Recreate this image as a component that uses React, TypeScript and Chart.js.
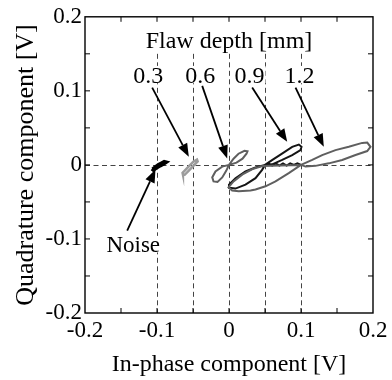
import React, { useEffect, useRef } from 'react';
import { Chart, registerables } from 'chart.js';

Chart.register(...registerables);

const FONT = '"Liberation Serif", "Times New Roman", Times, serif';

// axis ticks
const xTickValues = [-0.2, -0.1, 0, 0.1, 0.2];
const xTickLabels = ['-0.2', '-0.1', '0', '0.1', '0.2'];
const yTickValues = [-0.2, -0.1, 0, 0.1, 0.2];
const yTickLabels = ['-0.2', '-0.1', '0', '0.1', '0.2'];
const tickMarks = [-0.15, -0.1, -0.05, 0, 0.05, 0.1, 0.15];

// dashed guide lines
const guideX = [-0.1, -0.05, 0, 0.05, 0.1];
const guideTopY = 0.15;
const guideY = 0;

// signal traces
const noiseX = [-0.106, -0.102, -0.098, -0.094, -0.09, -0.088, -0.091, -0.096, -0.101, -0.105, -0.107];
const noiseY = [-0.006, -0.003, 0.0, 0.002, 0.004, 0.0035, 0.0015, -0.001, -0.004, -0.0065, -0.005];

const d03X = [-0.064, -0.0615, -0.0565, -0.0515, -0.0465, -0.0435, -0.0445, -0.0495, -0.0545, -0.0595, -0.0645, -0.064];
const d03Y = [-0.013, -0.0133, -0.0083, -0.0033, 0.0017, 0.0047, 0.0073, 0.0043, -0.0007, -0.0057, -0.0107, -0.013];

const d06X = [0, 0.0104, 0.0188, 0.0243, 0.0257, 0.0215, 0.0132, 0.0063, 0, -0.0094, -0.0188, -0.0233, -0.0215, -0.016, -0.0094, -0.0039, 0];
const d06Y = [0, 0.0031, 0.0084, 0.0151, 0.0184, 0.0191, 0.0151, 0.0084, 0, -0.0023, -0.0089, -0.0169, -0.0223, -0.0229, -0.0169, -0.008, 0];

const d09X = [0.05, 0.0603, 0.0742, 0.0878, 0.097, 0.1007, 0.0993, 0.0878, 0.0739, 0.06, 0.05,
  0.0368, 0.0229, 0.009, 0.0, 0.0, 0.009, 0.0229, 0.0368, 0.046, 0.05,
  0.055, 0.06, 0.065, 0.07, 0.075, 0.08, 0.085, 0.09, 0.095, 0.1];
const d09Y = [0, 0.0067, 0.0155, 0.0244, 0.0275, 0.0244, 0.02, 0.0133, 0.0067, 0.0008, 0,
  -0.0036, -0.0089, -0.0179, -0.0267, -0.031, -0.032, -0.0267, -0.0179, -0.0067, 0,
  0.002, -0.001, 0.002, -0.001, 0.002, -0.001, 0.002, 0.0, 0.002, 0];

const d12X = [0.1, 0.1156, 0.1294, 0.1479, 0.1664, 0.185, 0.192, 0.1965, 0.192, 0.1757, 0.1572, 0.1386, 0.1201, 0.1063, 0.1,
  0.083, 0.0646, 0.0507, 0.0368, 0.0299, 0.0136, 0.0044, -0.0007, 0.0063, 0.0188, 0.0326, 0.0465, 0.0715, 0.1];
const d12Y = [0, 0.0067, 0.0133, 0.02, 0.0244, 0.0297, 0.0301, 0.0244, 0.0187, 0.0133, 0.0067, 0.0021, -0.0013, -0.0023, 0,
  -0.0112, -0.0223, -0.0289, -0.0333, -0.0347, -0.0356, -0.0347, -0.0303, -0.0223, -0.0129, -0.0056, -0.0016, -0.0009, 0];

// annotations (data coordinates)
const headerText = 'Flaw depth [mm]';
const headerPos = [0.0, 0.158];
const depthLabels = ['0.3', '0.6', '0.9', '1.2'];
const depthLabelX = [-0.112, -0.04, 0.0285, 0.098];
const depthLabelY = 0.111;
const arrowFromX = [-0.1067, -0.0372, 0.0322, 0.0924, -0.1414];
const arrowFromY = [0.1044, 0.1067, 0.1044, 0.1044, -0.0889];
const arrowToX = [-0.0558, -0.0025, 0.0808, 0.1317, -0.1021];
const arrowToY = [0.0111, 0.0088, 0.0311, 0.0244, -0.0063];
const noiseText = 'Noise';
const noisePos = [-0.133, -0.1176];

const xTitle = 'In-phase component [V]';
const yTitle = 'Quadrature component [V]';

const toPts = (xs: number[], ys: number[]) => xs.map((x, i) => ({ x, y: ys[i] }));

const overlay = {
  id: 'overlay',
  beforeDatasetsDraw(chart: any) {
    const { ctx, chartArea: a, scales } = chart;
    const xs = scales.x, ys = scales.y;
    ctx.save();
    ctx.strokeStyle = '#444';
    ctx.lineWidth = 1;
    ctx.setLineDash([5, 3.5]);
    guideX.forEach((v) => {
      const px = Math.round(xs.getPixelForValue(v)) + 0.5;
      ctx.beginPath();
      ctx.moveTo(px, ys.getPixelForValue(guideTopY));
      ctx.lineTo(px, a.bottom);
      ctx.stroke();
    });
    const py = Math.round(ys.getPixelForValue(guideY)) + 0.5;
    ctx.beginPath();
    ctx.moveTo(a.left, py);
    ctx.lineTo(a.right, py);
    ctx.stroke();
    ctx.restore();
  },
  afterDraw(chart: any) {
    const { ctx, chartArea: a, scales } = chart;
    const xs = scales.x, ys = scales.y;
    ctx.save();
    // frame
    ctx.strokeStyle = '#000';
    ctx.lineWidth = 1.4;
    ctx.strokeRect(a.left, a.top, a.right - a.left, a.bottom - a.top);
    // inward ticks
    const tl = 5;
    ctx.lineWidth = 1;
    tickMarks.forEach((v) => {
      const px = xs.getPixelForValue(v);
      ctx.beginPath();
      ctx.moveTo(px, a.bottom); ctx.lineTo(px, a.bottom - tl);
      ctx.moveTo(px, a.top); ctx.lineTo(px, a.top + tl);
      ctx.stroke();
      const py = ys.getPixelForValue(v);
      ctx.beginPath();
      ctx.moveTo(a.left, py); ctx.lineTo(a.left + tl, py);
      ctx.moveTo(a.right, py); ctx.lineTo(a.right - tl, py);
      ctx.stroke();
    });

    // texts with white backing
    const label = (text: string, x: number, y: number, size: number) => {
      ctx.font = `${size}px ${FONT}`;
      const w = ctx.measureText(text).width;
      ctx.fillStyle = '#fff';
      ctx.fillRect(x - w / 2 - 1, y - size * 0.7, w + 2, size * 0.72);
      ctx.fillStyle = '#000';
      ctx.textAlign = 'center';
      ctx.textBaseline = 'alphabetic';
      ctx.fillText(text, x, y);
    };
    label(headerText, xs.getPixelForValue(headerPos[0]), ys.getPixelForValue(headerPos[1]), 24);
    depthLabels.forEach((t, i) => label(t, xs.getPixelForValue(depthLabelX[i]), ys.getPixelForValue(depthLabelY), 24));
    label(noiseText, xs.getPixelForValue(noisePos[0]), ys.getPixelForValue(noisePos[1]), 23);

    // arrows
    ctx.strokeStyle = '#000';
    ctx.fillStyle = '#000';
    ctx.lineWidth = 1.8;
    arrowFromX.forEach((fx, i) => {
      const x1 = xs.getPixelForValue(fx), y1 = ys.getPixelForValue(arrowFromY[i]);
      const x2 = xs.getPixelForValue(arrowToX[i]), y2 = ys.getPixelForValue(arrowToY[i]);
      const ang = Math.atan2(y2 - y1, x2 - x1);
      const hl = 13, hw = 5;
      const bx = x2 - hl * Math.cos(ang), by = y2 - hl * Math.sin(ang);
      ctx.beginPath();
      ctx.moveTo(x1, y1);
      ctx.lineTo(bx, by);
      ctx.stroke();
      ctx.beginPath();
      ctx.moveTo(x2, y2);
      ctx.lineTo(bx + hw * Math.sin(ang), by - hw * Math.cos(ang));
      ctx.lineTo(bx - hw * Math.sin(ang), by + hw * Math.cos(ang));
      ctx.closePath();
      ctx.fill();
    });

    // axis titles
    ctx.fillStyle = '#000';
    ctx.textAlign = 'center';
    ctx.textBaseline = 'alphabetic';
    ctx.font = `24px ${FONT}`;
    ctx.fillText(xTitle, (a.left + a.right) / 2, 371);
    ctx.save();
    ctx.translate(33, 165);
    ctx.rotate(-Math.PI / 2);
    ctx.font = `26px ${FONT}`;
    ctx.fillText(yTitle, 0, 0);
    ctx.restore();
    ctx.restore();
  },
};

export default function App() {
  const ref = useRef<HTMLCanvasElement | null>(null);
  useEffect(() => {
    if (!ref.current) return;
    const tickLabel = (vals: number[], labels: string[]) => (v: any) => {
      const i = vals.findIndex((t) => Math.abs(t - Number(v)) < 1e-9);
      return i >= 0 ? labels[i] : '';
    };
    const line = (data: any[], color: string, width: number) => ({
      data,
      borderColor: color,
      backgroundColor: color,
      borderWidth: width,
      showLine: true,
      pointRadius: 0,
      tension: 0,
      fill: false,
    });
    const chart = new Chart(ref.current, {
      type: 'scatter',
      data: {
        datasets: [
          line(toPts(d12X, d12Y), '#5f5f5f', 2),
          line(toPts(d09X, d09Y), '#151515', 2),
          line(toPts(d06X, d06Y), '#5f5f5f', 2),
          line(toPts(d03X, d03Y), '#9c9c9c', 2.5),
          line(toPts(noiseX, noiseY), '#000', 4),
        ],
      },
      options: {
        animation: false,
        responsive: true,
        maintainAspectRatio: false,
        layout: { padding: { left: 0, top: 13, right: 19, bottom: 0 } },
        plugins: { legend: { display: false }, tooltip: { enabled: false } },
        scales: {
          x: {
            type: 'linear',
            min: -0.2,
            max: 0.2,
            afterFit: (s: any) => { s.height = 67; },
            afterBuildTicks: (s: any) => { s.ticks = xTickValues.map((v) => ({ value: v })); },
            grid: { display: false, drawTicks: false },
            border: { display: false },
            ticks: {
              color: '#000',
              font: { family: FONT, size: 23 },
              padding: 4,
              maxRotation: 0,
              autoSkip: false,
              callback: tickLabel(xTickValues, xTickLabels),
            },
          },
          y: {
            type: 'linear',
            min: -0.2,
            max: 0.2,
            afterFit: (s: any) => { s.width = 85; },
            afterBuildTicks: (s: any) => { s.ticks = yTickValues.map((v) => ({ value: v })); },
            grid: { display: false, drawTicks: false },
            border: { display: false },
            ticks: {
              color: '#000',
              font: { family: FONT, size: 23 },
              padding: 3,
              autoSkip: false,
              callback: tickLabel(yTickValues, yTickLabels),
            },
          },
        },
      },
      plugins: [overlay],
    });
    return () => chart.destroy();
  }, []);
  return (
    <div style={{ position: 'absolute', left: 0, top: 0, width: 392, height: 380, background: '#fff' }}>
      <canvas ref={ref} />
    </div>
  );
}
